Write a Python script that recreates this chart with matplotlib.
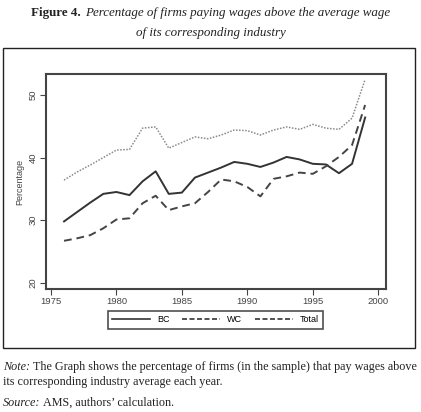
import matplotlib
matplotlib.use("Agg")
import matplotlib.pyplot as plt
from matplotlib.lines import Line2D
from matplotlib.patches import Rectangle

years = list(range(1976, 2000))
bc = [29.8, 31.3, 32.8, 34.2, 34.5, 34.0, 36.2, 37.8, 34.2, 34.4, 36.8, 37.6,
      38.4, 39.3, 39.0, 38.5, 39.2, 40.1, 39.7, 39.0, 38.9, 37.5, 39.0, 46.4]
wc = [26.7, 27.1, 27.6, 28.7, 30.1, 30.3, 32.7, 33.9, 31.6, 32.2, 32.7, 34.5,
      36.5, 36.2, 35.3, 33.8, 36.6, 37.0, 37.6, 37.4, 38.6, 40.1, 42.0, 48.4]
total = [36.4, 37.7, 38.8, 40.0, 41.2, 41.3, 44.7, 44.9, 41.5, 42.4, 43.3, 43.0,
         43.6, 44.4, 44.3, 43.6, 44.4, 44.9, 44.5, 45.3, 44.7, 44.5, 46.3, 52.5]
xticks = [1975, 1980, 1985, 1990, 1995, 2000]
yticks = [20, 30, 40, 50]
series_labels = ["BC", "WC", "Total"]

W, H = 421, 412
fig = plt.figure(figsize=(W / 100, H / 100), dpi=100)
renderer = fig.canvas.get_renderer()

serif = ["Liberation Serif", "DejaVu Serif"]
sans = ["Liberation Sans", "DejaVu Sans"]
ink = "#222222"

# outer frame
fig.patches.append(Rectangle((3.3 / W, 1 - 348.3 / H), (415 - 3.3) / W, (348.3 - 47.7) / H,
                             transform=fig.transFigure, fill=False, edgecolor=ink,
                             linewidth=1.0))

ax = fig.add_axes([45.7 / W, 1 - 289 / H, (385.7 - 45.7) / W, (289 - 74) / H])
ax.plot(years, bc, color="#333333", linewidth=1.4, linestyle="-")
ax.plot(years, wc, color="#444444", linewidth=1.4, linestyle=(0, (4, 2.5)))
ax.plot(years, total, color="#8a8a8a", linewidth=1.1, linestyle=(0, (1, 1)))

ax.set_xlim(1974.6, 2000.57)
ax.set_ylim(19.0, 53.35)
ax.set_xticks(xticks)
ax.set_yticks(yticks)
ax.set_xticklabels([str(v) for v in xticks], fontsize=6.8, family=sans, color="#444444")
ax.set_yticklabels([str(v) for v in yticks], fontsize=6.8, family=sans, color="#444444",
                   rotation=90, va="center")
ax.tick_params(direction="out", length=4, width=0.8, color="#444444", pad=2)
for s in ax.spines.values():
    s.set_linewidth(1.5)
    s.set_color("#444444")
ax.set_ylabel("Percentage", fontsize=6.5, family=sans, color="#444444", labelpad=3)

handles = [Line2D([], [], color="#333333", linewidth=1.2, linestyle="-"),
           Line2D([], [], color="#333333", linewidth=1.2, linestyle=(0, (3, 1.5))),
           Line2D([], [], color="#333333", linewidth=1.2, linestyle=(0, (3, 1.5)))]
leg = fig.legend(handles, series_labels, loc="center", bbox_to_anchor=(215.5 / W, 1 - 320 / H),
                 ncol=3, frameon=True, fancybox=False,
                 prop={"family": sans, "size": 6.5}, handlelength=4.2, columnspacing=1.4,
                 borderpad=0.45, handletextpad=0.8)
leg.get_frame().set_edgecolor(ink)
leg.get_frame().set_linewidth(1.2)


def two_part(x0, y, a, b, size, style_a, style_b, target=None, gap=4):
    """Place two text pieces on one line; optionally scale to target pixel width."""
    def place(sz):
        ta = fig.text(0, 1 - y / H, a, fontsize=sz, family=serif, ha="left", va="center",
                      color=ink, **style_a)
        tb = fig.text(0, 1 - y / H, b, fontsize=sz, family=serif, ha="left", va="center",
                      color=ink, **style_b)
        wa = ta.get_window_extent(renderer).width
        wb = tb.get_window_extent(renderer).width
        return ta, tb, wa, wb
    ta, tb, wa, wb = place(size)
    if target is not None:
        ta.remove(); tb.remove()
        size = size * target / (wa + wb + gap)
        ta, tb, wa, wb = place(size)
    if x0 == "center":
        x0 = (W - (wa + wb + gap)) / 2
    ta.set_x(x0 / W)
    tb.set_x((x0 + wa + gap) / W)
    return size


# title
tsize = two_part("center", 13, "Figure 4.",
                 "Percentage of firms paying wages above the average wage",
                 10.5, {"weight": "bold"}, {"style": "italic"}, target=362)
fig.text(0.5, 1 - 33 / H, "of its corresponding industry", fontsize=tsize, family=serif,
         style="italic", ha="center", va="center", color=ink)

# notes
nsize = two_part(3, 367, "Note:",
                 "The Graph shows the percentage of firms (in the sample) that pay wages above",
                 8, {"style": "italic"}, {}, target=414, gap=3)
fig.text(3 / W, 1 - 382 / H, "its corresponding industry average each year.", fontsize=nsize,
         family=serif, ha="left", va="center", color=ink)
two_part(3, 403, "Source:", "AMS, authors\u2019 calculation.", nsize,
         {"style": "italic"}, {}, gap=3)

fig.savefig("out.png", dpi=100)
